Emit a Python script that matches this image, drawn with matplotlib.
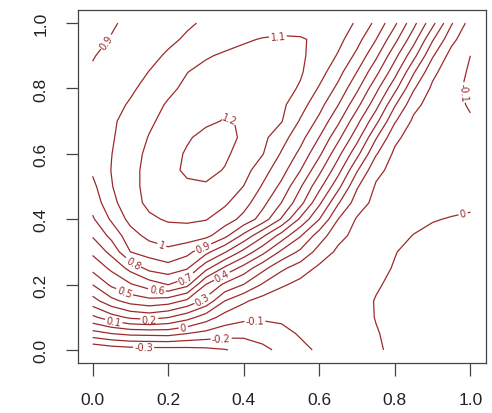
import numpy as np
import matplotlib
matplotlib.use("Agg")
import matplotlib.pyplot as plt

# surface values: rows are y, columns are x (step 0.05)
x_grid = [round(0.05 * i, 2) for i in range(21)]
y_grid = [round(0.05 * j, 2) for j in range(21)]
z_grid = [
    [-0.39, -0.36, -0.345, -0.34, -0.34, -0.335, -0.325, -0.305, -0.275, -0.225, -0.175,
     -0.125, -0.085, -0.06, -0.035, -0.008, 0.012, 0.028, 0.035, 0.042, 0.045],
    [-0.14, -0.10, -0.075, -0.07, -0.065, -0.10, -0.13, -0.16, -0.17, -0.155, -0.13,
     -0.09, -0.07, -0.05, -0.03, -0.005, 0.02, 0.035, 0.04, 0.045, 0.048],
    [0.08, 0.16, 0.22, 0.24, 0.205, 0.14, 0.05, -0.04, -0.075, -0.085, -0.08,
     -0.075, -0.065, -0.05, -0.03, 0.003, 0.025, 0.04, 0.045, 0.05, 0.05],
    [0.26, 0.37, 0.44, 0.47, 0.45, 0.38, 0.27, 0.10, 0.015, -0.04, -0.07,
     -0.075, -0.07, -0.055, -0.035, 0.005, 0.025, 0.04, 0.045, 0.05, 0.05],
    [0.402, 0.52, 0.59, 0.65, 0.702, 0.63, 0.398, 0.28, 0.198, 0.09, 0.015,
     -0.03, -0.05, -0.055, -0.045, -0.01, 0.02, 0.04, 0.045, 0.05, 0.05],
    [0.53, 0.62, 0.73, 0.83, 0.86, 0.81, 0.63, 0.48, 0.36, 0.23, 0.12,
     0.05, -0.02, -0.045, -0.05, -0.02, 0.005, 0.03, 0.04, 0.045, 0.045],
    [0.62, 0.73, 0.90, 0.94, 0.975, 0.93, 0.83, 0.71, 0.57, 0.43, 0.28,
     0.18, 0.06, -0.02, -0.045, -0.04, -0.003, 0.02, 0.035, 0.04, 0.04],
    [0.71, 0.83, 0.96, 1.03, 1.055, 1.055, 1.03, 0.93, 0.775, 0.62, 0.46,
     0.31, 0.15, 0.03, -0.03, -0.045, -0.03, 0.003, 0.02, 0.03, 0.035],
    [0.787, 0.915, 1.03, 1.085, 1.11, 1.115, 1.105, 1.05, 0.97, 0.855, 0.69,
     0.48, 0.302, 0.10, -0.01, -0.04, -0.045, -0.03, -0.005, 0.005, 0.015],
    [0.84, 0.97, 1.065, 1.12, 1.145, 1.15, 1.14, 1.115, 1.04, 0.93, 0.798,
     0.635, 0.42, 0.21, 0.05, -0.03, -0.045, -0.045, -0.035, -0.025, -0.02],
    [0.875, 0.995, 1.07, 1.13, 1.165, 1.185, 1.19, 1.16, 1.098, 0.99, 0.875,
     0.71, 0.53, 0.33, 0.11, -0.01, -0.035, -0.045, -0.045, -0.04, -0.035],
    [0.915, 1.003, 1.07, 1.13, 1.175, 1.215, 1.225, 1.195, 1.14, 1.04, 0.94,
     0.802, 0.627, 0.437, 0.21, 0.025, -0.03, -0.045, -0.05, -0.05, -0.05],
    [0.94, 0.998, 1.065, 1.12, 1.165, 1.21, 1.24, 1.215, 1.165, 1.105, 0.99,
     0.875, 0.72, 0.53, 0.33, 0.11, -0.02, -0.05, -0.06, -0.065, -0.07],
    [0.955, 0.99, 1.05, 1.105, 1.15, 1.19, 1.225, 1.23, 1.185, 1.125, 1.04,
     0.935, 0.798, 0.627, 0.437, 0.21, 0.025, -0.05, -0.07, -0.08, -0.085],
    [0.955, 0.985, 1.035, 1.085, 1.13, 1.16, 1.185, 1.205, 1.195, 1.16, 1.105,
     0.99, 0.875, 0.72, 0.53, 0.33, 0.11, -0.02, -0.06, -0.085, -0.095],
    [0.945, 0.97, 1.01, 1.065, 1.11, 1.145, 1.17, 1.185, 1.18, 1.16, 1.12,
     1.04, 0.935, 0.802, 0.63, 0.437, 0.21, 0.03, -0.045, -0.085, -0.105],
    [0.93, 0.955, 0.985, 1.03, 1.08, 1.12, 1.15, 1.165, 1.17, 1.16, 1.135,
     1.09, 0.99, 0.875, 0.72, 0.53, 0.33, 0.11, -0.02, -0.08, -0.115],
    [0.91, 0.94, 0.97, 1.002, 1.04, 1.098, 1.13, 1.15, 1.155, 1.15, 1.14,
     1.11, 1.04, 0.935, 0.798, 0.63, 0.437, 0.21, 0.025, -0.065, -0.11],
    [0.895, 0.925, 0.955, 0.98, 1.01, 1.045, 1.09, 1.115, 1.125, 1.13, 1.125,
     1.11, 1.075, 0.99, 0.875, 0.72, 0.53, 0.33, 0.11, -0.04, -0.10],
    [0.875, 0.905, 0.935, 0.96, 0.985, 1.01, 1.035, 1.06, 1.09, 1.105, 1.11,
     1.105, 1.09, 1.03, 0.935, 0.802, 0.63, 0.437, 0.21, 0.03, -0.08],
    [0.86, 0.89, 0.92, 0.94, 0.965, 0.99, 1.01, 1.025, 1.04, 1.055, 1.068,
     1.075, 1.065, 1.04, 0.99, 0.876, 0.72, 0.53, 0.33, 0.11, -0.04],
]
levels = [-0.3, -0.2, -0.1, 0.0, 0.1, 0.2, 0.3, 0.4, 0.5, 0.6,
          0.7, 0.8, 0.9, 1.0, 1.1, 1.2]

# where the inline labels sit in the original
label_levels = [0.9, 1.1, 1.2, -0.1, 0.0, 1.0, 0.9, 0.8, 0.7, 0.4,
                0.5, 0.6, 0.3, 0.1, 0.2, 0.0, -0.1, -0.2, -0.3]
label_spots = [(0.05, 0.93), (0.49, 0.965), (0.36, 0.70), (0.99, 0.79),
               (0.98, 0.42), (0.18, 0.31), (0.29, 0.32), (0.10, 0.25),
               (0.25, 0.21), (0.34, 0.23), (0.08, 0.165), (0.17, 0.18),
               (0.29, 0.155), (0.055, 0.08), (0.15, 0.085), (0.24, 0.07),
               (0.43, 0.085), (0.34, 0.04), (0.135, 0.005)]

line_col = "#9c2a2a"
txt_col = "#222222"


def fmt(v):
    v = round(v, 1)
    return "0" if v == 0 else f"{v:g}"


fig = plt.figure(figsize=(4.92, 4.14), dpi=100)
ax = fig.add_axes([77.5 / 492, 50 / 414, 408 / 492, 353 / 414])

z = np.array(z_grid)
for lev in levels:
    cs = ax.contour(x_grid, y_grid, z, levels=[lev], colors=line_col,
                    linewidths=0.9, linestyles="solid")
    spots = [s for l, s in zip(label_levels, label_spots) if abs(l - lev) < 1e-9]
    if spots:
        cs.clabel(manual=spots, fmt=fmt, fontsize=7, inline=True,
                  inline_spacing=2, colors=line_col)

ax.set_xlim(-0.04, 1.04)
ax.set_ylim(-0.04, 1.04)
ticks = [0.0, 0.2, 0.4, 0.6, 0.8, 1.0]
ax.set_xticks(ticks)
ax.set_yticks(ticks)
ax.set_xticklabels([f"{t:.1f}" for t in ticks])
ax.set_yticklabels([f"{t:.1f}" for t in ticks], rotation=90, va="center")
ax.tick_params(length=9, width=0.9, pad=12, labelsize=12.5,
               colors="#444444", labelcolor=txt_col)
for lab in ax.get_xticklabels() + ax.get_yticklabels():
    lab.set_fontfamily("Liberation Sans")
for sp in ax.spines.values():
    sp.set_color("#444444")
    sp.set_linewidth(0.9)

fig.savefig("out.png", dpi=100)
